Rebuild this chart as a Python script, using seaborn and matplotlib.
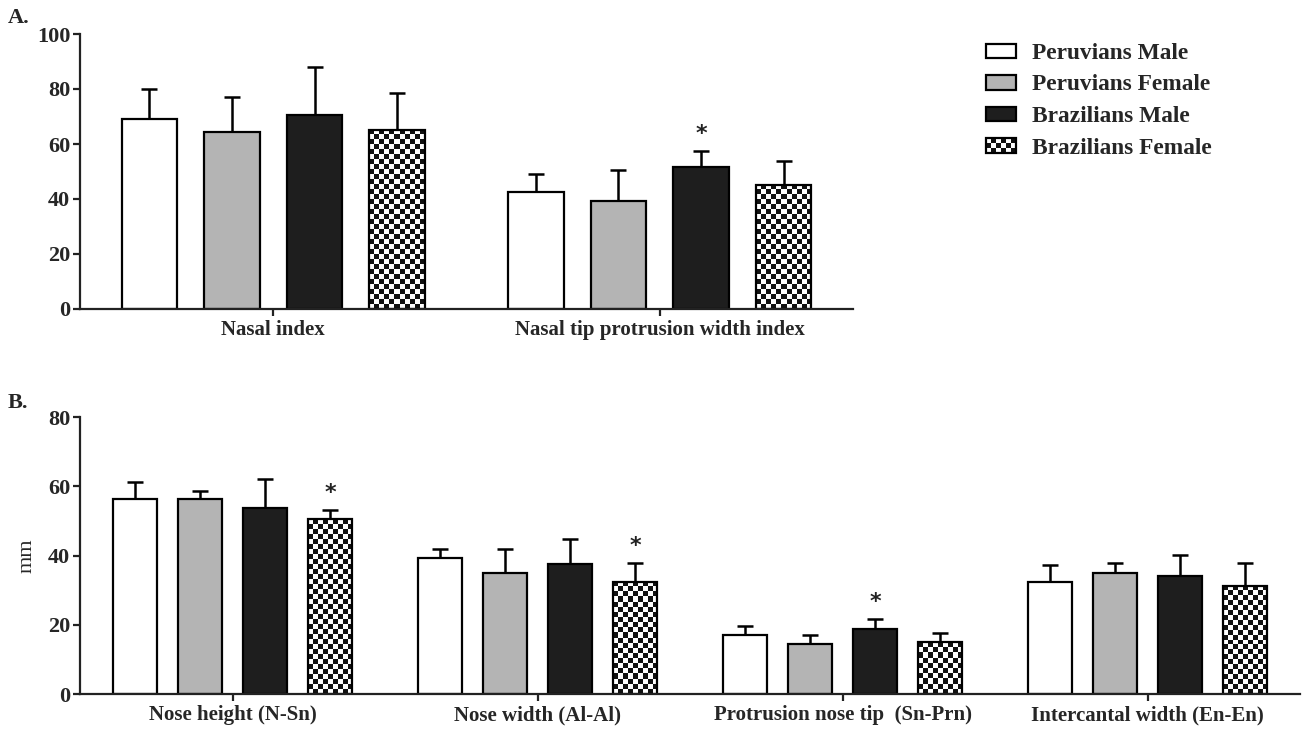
import numpy as np
import pandas as pd
import matplotlib
matplotlib.use("Agg")
import matplotlib.pyplot as plt
from matplotlib.patches import Patch, Rectangle
from matplotlib.colors import ListedColormap
from matplotlib.legend_handler import HandlerBase
from matplotlib.container import BarContainer
import seaborn as sns

# ---------------- data ----------------
groups = ["Peruvians Male", "Peruvians Female", "Brazilians Male", "Brazilians Female"]
group_colors = ["#ffffff", "#b4b4b4", "#1e1e1e", "#ffffff"]

cats_a = ["Nasal index", "Nasal tip protrusion width index"]
mean_a_pm = [69.0, 42.7]
mean_a_pf = [64.4, 39.2]
mean_a_bm = [70.5, 51.5]
mean_a_bf = [65.1, 45.1]
sd_a_pm = [11.0, 6.4]
sd_a_pf = [12.8, 11.5]
sd_a_bm = [17.4, 6.1]
sd_a_bf = [13.3, 8.8]
stars_a = [("Nasal tip protrusion width index", "Brazilians Male")]

cats_b = ["Nose height (N-Sn)", "Nose width (Al-Al)",
          "Protrusion nose tip  (Sn-Prn)", "Intercantal width (En-En)"]
mean_b_pm = [56.5, 39.2, 17.2, 32.4]
mean_b_pf = [56.4, 35.1, 14.4, 35.1]
mean_b_bm = [53.7, 37.5, 18.8, 34.1]
mean_b_bf = [50.5, 32.5, 15.0, 31.3]
sd_b_pm = [4.9, 2.7, 2.5, 5.0]
sd_b_pf = [2.3, 6.7, 2.6, 2.7]
sd_b_bm = [8.4, 7.2, 3.0, 6.2]
sd_b_bf = [2.6, 5.3, 2.7, 6.5]
stars_b = [("Nose height (N-Sn)", "Brazilians Female"),
           ("Nose width (Al-Al)", "Brazilians Female"),
           ("Protrusion nose tip  (Sn-Prn)", "Brazilians Male")]

yticks_a = [0, 20, 40, 60, 80, 100]
yticks_b = [0, 20, 40, 60, 80]

# ---------------- style ----------------
sns.set_style("ticks")
plt.rcParams["font.family"] = ["Liberation Serif", "DejaVu Serif"]
plt.rcParams["axes.linewidth"] = 1.6

W, H = 1302, 729
fig = plt.figure(figsize=(W / 100, H / 100), dpi=100)

def frac(x0, y0, x1, y1):
    return [x0 / W, 1 - y1 / H, (x1 - x0) / W, (y1 - y0) / H]

axA = fig.add_axes(frac(80, 34, 853, 309))
axB = fig.add_axes(frac(80, 417.3, 1300, 694))

CHECK_CMAP = ListedColormap(["#ffffff", "#111111"])


def build_df(cats, means, sds):
    rows = []
    for g, m, s in zip(groups, means, sds):
        for c, mv, sv in zip(cats, m, s):
            rows.append({"measure": c, "group": g, "value": mv, "sd": sv})
    return pd.DataFrame(rows)


def add_checker(ax, patch, cell=5.0):
    bb = patch.get_window_extent()
    nx = max(1, int(round(bb.width / cell)))
    ny = max(1, int(round(bb.height / cell)))
    arr = np.add.outer(np.arange(ny), np.arange(nx)) % 2
    x0, w = patch.get_x(), patch.get_width()
    y0, h = patch.get_y(), patch.get_height()
    ax.imshow(arr, cmap=CHECK_CMAP, extent=(x0, x0 + w, y0, y0 + h),
              origin="lower", interpolation="nearest", aspect="auto",
              zorder=patch.get_zorder() + 0.1)
    patch.set_facecolor("none")
    patch.set_zorder(patch.get_zorder() + 0.2)


def draw_panel(ax, cats, means, sds, yticks, stars):
    df = build_df(cats, means, sds)
    sns.barplot(data=df, x="measure", y="value", hue="group", order=cats,
                hue_order=groups, palette=group_colors, saturation=1,
                width=0.854, gap=0.323, edgecolor="black", linewidth=1.6,
                errorbar=None, legend=False, ax=ax)
    ax.set_xlim(-0.5, len(cats) - 0.5)
    ax.set_ylim(0, yticks[-1])
    bar_conts = [c for c in ax.containers if isinstance(c, BarContainer)]
    tops = {}
    for gi, cont in enumerate(bar_conts):
        xs, ys, es = [], [], []
        for ci, bar in enumerate(cont.patches):
            xc = bar.get_x() + bar.get_width() / 2
            xs.append(xc)
            ys.append(means[gi][ci])
            es.append(sds[gi][ci])
            tops[(cats[ci], groups[gi])] = (xc, means[gi][ci] + sds[gi][ci])
        ax.errorbar(xs, ys, yerr=[np.zeros(len(es)), es], fmt="none",
                    ecolor="black", elinewidth=1.8, capsize=5.6,
                    capthick=1.8, zorder=0.5)
        if groups[gi] == "Brazilians Female":
            for bar in cont.patches:
                add_checker(ax, bar)
    ax.set_xlim(-0.5, len(cats) - 0.5)
    ax.set_ylim(0, yticks[-1])
    for c, g in stars:
        xc, yt = tops[(c, g)]
        ax.annotate("*", xy=(xc, yt), xytext=(0, 5.0), textcoords="offset points",
                    ha="center", va="bottom", fontsize=16, color="#222222",
                    fontweight="bold", family=["DejaVu Sans"])
    ax.set_yticks(yticks)
    ax.set_yticklabels([str(t) for t in yticks], fontweight="bold", fontsize=16)
    ax.set_xticks(range(len(cats)))
    ax.set_xticklabels(cats, fontweight="bold", fontsize=15)
    ax.tick_params(axis="both", direction="out", length=5, width=1.6, color="#222222")
    ax.tick_params(axis="y", pad=2)
    ax.tick_params(axis="x", pad=3)
    ax.set_xlabel("")
    ax.set_ylabel("")
    for s in ["top", "right"]:
        ax.spines[s].set_visible(False)
    ax.spines["left"].set_color("#222222")
    ax.spines["bottom"].set_color("#222222")


draw_panel(axA, cats_a,
           [mean_a_pm, mean_a_pf, mean_a_bm, mean_a_bf],
           [sd_a_pm, sd_a_pf, sd_a_bm, sd_a_bf], yticks_a, stars_a)
draw_panel(axB, cats_b,
           [mean_b_pm, mean_b_pf, mean_b_bm, mean_b_bf],
           [sd_b_pm, sd_b_pf, sd_b_bm, sd_b_bf], yticks_b, stars_b)

axB.set_ylabel("mm", fontsize=16, labelpad=8)

fig.text(8 / W, 1 - 18 / H, "A.", fontweight="bold", fontsize=16, va="center", ha="left")
fig.text(8 / W, 1 - 403 / H, "B.", fontweight="bold", fontsize=16, va="center", ha="left")


# ---------------- legend ----------------
class CheckerHandler(HandlerBase):
    def create_artists(self, legend, orig_handle, xdescent, ydescent, width,
                       height, fontsize, trans):
        arts = [Rectangle((-xdescent, -ydescent), width, height,
                          facecolor="white", edgecolor="none",
                          transform=trans)]
        nx, ny = 6, 3
        cw, ch = width / nx, height / ny
        for i in range(ny):
            for j in range(nx):
                if (i + j) % 2 == 1:
                    arts.append(Rectangle((-xdescent + j * cw, -ydescent + i * ch),
                                          cw, ch, facecolor="#111111",
                                          edgecolor="none", transform=trans))
        arts.append(Rectangle((-xdescent, -ydescent), width, height,
                              facecolor="none", edgecolor="black", lw=1.6,
                              transform=trans))
        return arts


class BoxHandler(HandlerBase):
    def create_artists(self, legend, orig_handle, xdescent, ydescent, width,
                       height, fontsize, trans):
        return [Rectangle((-xdescent, -ydescent), width, height,
                          facecolor=orig_handle.get_facecolor(),
                          edgecolor="black", lw=1.6, transform=trans)]


handles = [Patch(facecolor=c) for c in group_colors]
handler_map = {handles[0]: BoxHandler(), handles[1]: BoxHandler(),
               handles[2]: BoxHandler(), handles[3]: CheckerHandler()}
leg = fig.legend(handles, groups, handler_map=handler_map,
                 loc="upper left", bbox_to_anchor=(986 / W, 1 - 43 / H),
                 frameon=False, borderpad=0, borderaxespad=0,
                 handlelength=1.28, handleheight=0.58, handletextpad=0.68,
                 labelspacing=0.45, prop={"weight": "bold", "size": 16.8,
                                          "family": "Liberation Serif"})

fig.savefig("out.png", dpi=100)
